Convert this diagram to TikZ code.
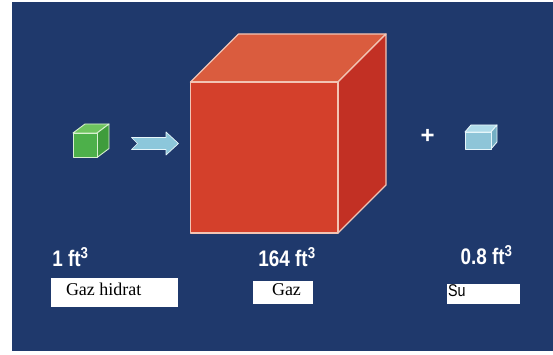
\documentclass[tikz,border=0pt]{standalone}
\usepackage{fontspec}
\setmainfont{Liberation Serif}
\setsansfont{Liberation Sans}
\newfontfamily\volfont[FakeStretch=0.84]{Liberation Sans}
\usetikzlibrary{positioning}

\definecolor{bgblue}{HTML}{1F396C}
\definecolor{gasfront}{HTML}{D4402B}
\definecolor{gastop}{HTML}{DA5C3E}
\definecolor{gasside}{HTML}{C23024}
\definecolor{gasedge}{HTML}{F2C4B4}
\definecolor{hydfront}{HTML}{4DB04A}
\definecolor{hydtop}{HTML}{6EC45E}
\definecolor{hydside}{HTML}{3F9C3C}
\definecolor{hydedge}{HTML}{D8F0D0}
\definecolor{watfront}{HTML}{8EC5D8}
\definecolor{wattop}{HTML}{B0DCEA}
\definecolor{watside}{HTML}{74AFC4}
\definecolor{watedge}{HTML}{E6F6FA}
\definecolor{arrowblue}{HTML}{8CC7DB}

% cube: x, y of front top-left corner, width, height, depth x, depth y, colour prefix, line width
\newcommand{\boxcube}[8]{%
  \filldraw[fill=#7top, draw=#7edge, line width=#8, line join=round]
    (#1,#2) -- ({#1+#5},{#2-#6}) -- ({#1+#3+#5},{#2-#6}) -- ({#1+#3},#2) -- cycle;
  \filldraw[fill=#7side, draw=#7edge, line width=#8, line join=round]
    ({#1+#3},#2) -- ({#1+#3+#5},{#2-#6}) -- ({#1+#3+#5},{#2+#4-#6}) -- ({#1+#3},{#2+#4}) -- cycle;
  \filldraw[fill=#7front, draw=#7edge, line width=#8, line join=round]
    (#1,#2) rectangle ({#1+#3},{#2+#4});
}

\begin{document}
\begin{tikzpicture}[
            x=1pt, y=-1pt,
            volume/.style={text=white, font=\volfont\bfseries\fontsize{22.5}{25}\selectfont, anchor=base},
            whitebox/.style={fill=white, inner sep=0pt},
            boxtext/.style={inner sep=0pt, text height=12pt, text depth=6pt}
        ]
            \useasboundingbox (0,0) rectangle (553,355);
            \fill[bgblue] (12,2) rectangle (553,351);

            % Cubes
            \boxcube{73}{133}{24}{24.5}{12}{9}{hyd}{0.9pt}
            \boxcube{190.5}{82}{147.5}{151}{48}{48}{gas}{1.2pt}
            \boxcube{465}{132}{26}{17}{6}{7}{wat}{0.9pt}

            % Block arrow
            \filldraw[fill=arrowblue, draw=watedge, line width=0.7pt, line join=round]
                (131.5,137.5) -- (166,137.5) -- (166,132) -- (178.5,143.5) -- (166,155)
                -- (166,149.5) -- (131.5,149.5) -- (137.5,143.5) -- cycle;

            \node[text=white, font=\sffamily\bfseries\fontsize{24}{28}\selectfont] (plus) at (427.5,136.5) {+};

            % Volumes
            \node[volume] (hydvol) at (70.5,266) {1 ft\textsuperscript{3}};
            \node[volume] (gasvol) at (287,266) {164 ft\textsuperscript{3}};
            \node[volume] (watvol) at (486.5,264.5) {0.8 ft\textsuperscript{3}};

            % Name boxes
            \node[whitebox, minimum width=127pt, minimum height=29pt] (hydbox) at (114.5,292) {};
            \node[whitebox, minimum width=60pt, minimum height=23pt] (gasbox) at (283,292.5) {};
            \node[whitebox, minimum width=73pt, minimum height=20pt] (watbox) at (483.5,294) {};

            \node[boxtext, font=\fontsize{18}{20}\selectfont, right=15pt of hydbox.west] (hydname) {Gaz hidrat};
            \node[boxtext, font=\fontsize{18}{20}\selectfont, right=19pt of gasbox.west] (gasname) {Gaz};
            \node[boxtext, font=\volfont\fontsize{17}{19}\selectfont, right=1pt of watbox.west, yshift=1pt] (watname) {Su};
        \end{tikzpicture}
\end{document}
